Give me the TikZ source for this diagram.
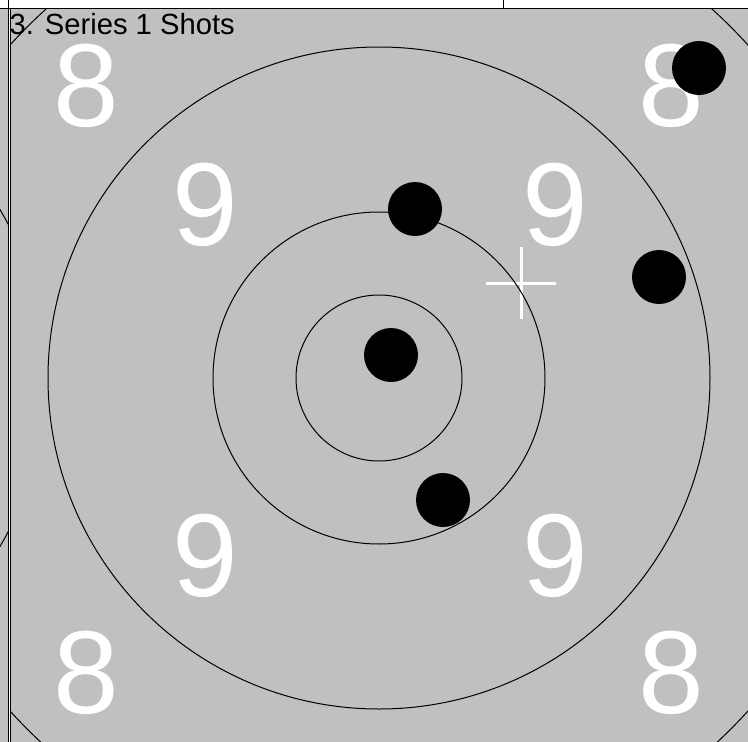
\documentclass[tikz,border=0pt]{standalone}
\usepackage{fontspec}
\setmainfont{Liberation Sans}
\usetikzlibrary{positioning}
\definecolor{cardInk}{RGB}{0,0,0}
\definecolor{cardGround}{RGB}{192,192,192}
\definecolor{cardPaper}{RGB}{255,255,255}
\tikzset{
  % thin black scoring ring
  ring/.style={draw=cardInk, line width=1pt},
  % a hit on the card
  shot/.style={circle, fill=cardInk, draw=none, minimum size=54pt, inner sep=0pt},
  % the big white zone numbers
  zone/.style={text=cardPaper, inner sep=0pt, font=\fontsize{118}{118}\selectfont},
  % the aiming mark
  aimmark/.style={draw=cardPaper, line width=3pt},
  % frame lines of the panel
  frame/.style={draw=cardInk, line width=1pt},
  % panel heading
  heading/.style={text=cardInk, inner sep=0pt, font=\fontsize{29.2}{31}\selectfont},
}
\begin{document}
\begin{tikzpicture}[x=1pt, y=-1pt]
\useasboundingbox (0,0) rectangle (748,742);

% ===========================================================================
% BACKGROUND: white strip on top, grey card below
% ===========================================================================
\fill[cardPaper] (0,0) rectangle (748,742);
\fill[cardGround] (0,8) rectangle (748,742);

% neighbouring panel, only its edge shows on the left
\begin{scope}
  \clip (0,8) rectangle (8,742);
  \draw[ring] (-285,378) circle[radius=331];
\end{scope}

% ===========================================================================
% ZONE NUMBERS
% ===========================================================================
\node[zone] (eightNW) at (86,86)   {8};
\node[zone] (eightNE) at (671,86)  {8};
\node[zone] (eightSW) at (86,673)  {8};
\node[zone] (eightSE) at (671,673) {8};
\node[zone] (nineNW)  at (205,205) {9};
\node[zone] (nineNE)  at (555,205) {9};
\node[zone] (nineSW)  at (205,556) {9};
\node[zone] (nineSE)  at (555,556) {9};

% ===========================================================================
% AIMING MARK
% ===========================================================================
\coordinate (aim) at (521,283);
\draw[aimmark] ([xshift=-35pt]aim) -- ([xshift=35pt]aim);
\draw[aimmark] ([yshift=-36pt]aim) -- ([yshift=36pt]aim);

% ===========================================================================
% RINGS
% ===========================================================================
\coordinate (centre) at (379,378);
\foreach \r in {83,166,331} {
  \draw[ring] (centre) circle[radius=\r];
}
\begin{scope}
  \clip (10,8) rectangle (748,742);
  \draw[ring] (centre) circle[radius=497];
\end{scope}

% ===========================================================================
% SHOTS
% ===========================================================================
\node[shot] (shot1) at (391,355) {};
\node[shot] (shot2) at (415,209) {};
\node[shot] (shot3) at (443,500) {};
\node[shot] (shot4) at (659,277) {};
\node[shot] (shot5) at (699,68)  {};

% ===========================================================================
% FRAME AND HEADING
% ===========================================================================
\fill[cardPaper] (8,8) rectangle (10.4,742);
\draw[frame] (0,8) -- (748,8);
\draw[frame] (8,0) -- (8,742);
\draw[frame] (10.4,8) -- (10.4,742);
\draw[frame] (503,0) -- (503,8);
\node[heading, anchor=base west] (title) at (9.5,34.5) {3. Series 1 Shots};

\end{tikzpicture}
\end{document}
